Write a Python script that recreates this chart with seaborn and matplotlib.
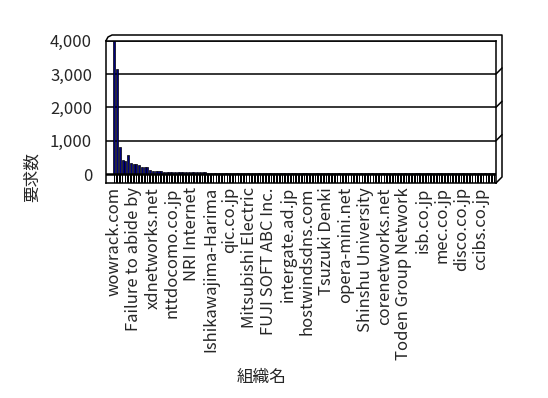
import matplotlib
matplotlib.use("Agg")
from matplotlib import pyplot as plt
from matplotlib.lines import Line2D
from matplotlib.transforms import ScaledTranslation
import numpy as np
import seaborn as sns

# request counts per organisation, sorted descending
counts = [
    3980, 3150, 800, 430, 380, 560, 330, 310, 290, 280,
    220, 200, 200, 110, 100, 100, 100, 100, 70, 70,
    70, 70, 70, 70, 70, 70, 70, 70, 70, 70,
    70, 70, 70, 70, 40, 40, 40, 40, 40, 40,
    40, 40, 40, 40, 40, 40, 40, 40, 40, 40,
    40, 40, 40, 40, 40, 40, 40, 40, 40, 40,
    40, 40, 40, 40, 40, 40, 40, 40, 40, 40,
    40, 30, 30, 30, 30, 30, 30, 30, 30, 30,
    30, 30, 30, 30, 30, 30, 30, 30, 30, 30,
    30, 30, 30, 30, 30, 30, 30, 30, 30, 30,
    30, 30, 30, 30, 30, 30, 30, 30, 30, 30,
    30, 30, 30, 30, 30, 30, 30, 30, 30, 30,
    30, 30, 30, 30, 30, 30, 30, 30, 30, 30,
    30, 30, 30, 30, 30, 30, 30, 30, 30,
]

# only every 7th organisation name is printed on the axis
org_labels = [
    "wowrack.com", "Failure to abide by", "xdnetworks.net", "nttdocomo.co.jp",
    "NRI Internet", "Ishikawajima-Harima", "qic.co.jp", "Mitsubishi Electric",
    "FUJI SOFT ABC Inc.", "intergate.ad.jp", "hostwindsdns.com", "Tsuzuki Denki",
    "opera-mini.net", "Shinshu University", "corenetworks.net",
    "Toden Group Network", "isb.co.jp", "mec.co.jp", "disco.co.jp", "ccibs.co.jp",
]
label_step = 7
yticks = [0, 1000, 2000, 3000, 4000]

sns.set_style("white")
plt.rcParams["font.family"] = ["Noto Sans CJK JP", "DejaVu Sans"]

W, H = 548, 398
fig = plt.figure(figsize=(W / 100, H / 100), dpi=100)

def fx(px):
    return px / W

def fy(py):
    return 1 - py / H

# plot rectangle in pixel terms: x 106..496, y 40.7 (4000) .. 183 (floor)
ax = fig.add_axes([fx(106), fy(183), fx(496) - fx(106), fy(40.7) - fy(183)])

n = len(counts)
pos = np.arange(n)
floor_depth = 270

# floor (3D depth of each bar) as a comb
ax.bar(pos, floor_depth, bottom=-floor_depth, width=0.6, color="black", linewidth=0)
sns.barplot(x=pos, y=counts, color="#000080", edgecolor="black", linewidth=0.5,
            width=0.75, saturation=1, ax=ax)
ax.axhline(0, color="black", lw=1.8)

ax.set_ylim(-floor_depth, 4000)
ax.set_xlim(-3.05, n - 0.5)
ax.set_yticks(yticks)
ax.set_yticklabels([f"{v:,}" for v in yticks], fontsize=12)
for v in yticks[1:]:
    ax.axhline(v, color="black", lw=1.1, zorder=0)

ax.set_xticks(pos[::label_step][:len(org_labels)])
ax.set_xticklabels(org_labels, rotation=90, fontsize=12, va="top", ha="center")
offset = ScaledTranslation(3 / 100, 0, fig.dpi_scale_trans)
for lab in ax.get_xticklabels():
    lab.set_transform(lab.get_transform() + offset)
ax.tick_params(axis="both", length=0)
ax.tick_params(axis="x", pad=3)
ax.tick_params(axis="y", pad=10)
ax.set_xlabel("")
ax.set_ylabel("")
for s in ax.spines.values():
    s.set_color("black")
    s.set_linewidth(1.1)

# 3D box edges (top face and right face)
def fig_line(xs, ys, lw=1.1):
    fig.add_artist(Line2D([fx(x) for x in xs], [fy(y) for y in ys],
                          color="black", lw=lw, transform=fig.transFigure))

fig_line([106, 108, 112, 502, 502, 496], [40.7, 37, 35, 35, 177, 183])
for gy in [74, 107.3, 140.7]:
    fig_line([496, 502], [gy, gy - 6])

fig.text(fx(32), fy(177), "要求数", rotation=90, fontsize=12, ha="center", va="center")
fig.text(fx(262), fy(377), "組織名", fontsize=12, ha="center", va="center")

fig.savefig("out.png", dpi=100, facecolor="white")
